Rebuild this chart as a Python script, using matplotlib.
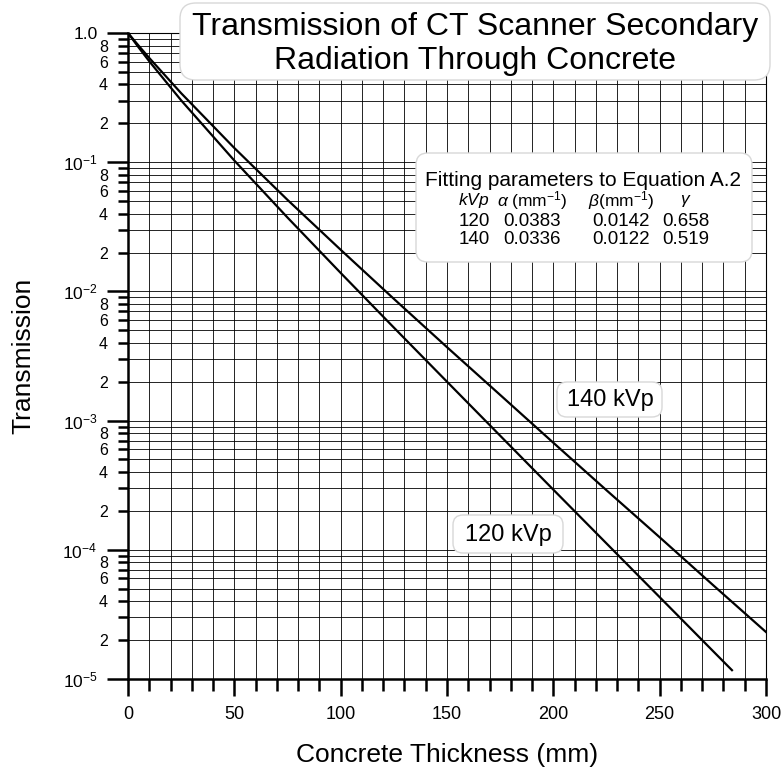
import numpy as np
import matplotlib
matplotlib.use('Agg')
import matplotlib.pyplot as plt
from matplotlib.patches import FancyBboxPatch
from matplotlib.ticker import FixedLocator, FuncFormatter

plt.rcParams['font.family'] = ['Liberation Sans', 'DejaVu Sans']
plt.rcParams['mathtext.fontset'] = 'custom'
plt.rcParams['mathtext.rm'] = 'Liberation Sans'
plt.rcParams['mathtext.it'] = 'Liberation Sans:italic'
plt.rcParams['mathtext.bf'] = 'Liberation Sans:bold'

# curves (thickness in mm, transmission)
thick_120 = [0, 5, 10, 25, 50, 75, 100, 125, 150, 175, 200, 225, 250, 275, 284]
trans_120 = [1.0, 0.773, 0.604, 0.301, 0.103, 0.0373, 0.0139, 0.00525, 0.0020,
             7.64e-4, 2.92e-4, 1.12e-4, 4.3e-5, 1.65e-5, 1.17e-5]
thick_140 = [0, 5, 10, 25, 50, 75, 100, 125, 150, 175, 200, 225, 250, 275, 300]
trans_140 = [1.0, 0.798, 0.641, 0.342, 0.1288, 0.0511, 0.0210, 0.00876, 0.0037,
             1.58e-3, 6.74e-4, 2.89e-4, 1.25e-4, 5.35e-5, 2.31e-5]

# fitting parameter table
param_kvp = ['120', '140']
param_alpha = ['0.0383', '0.0336']
param_beta = ['0.0142', '0.0122']
param_gamma = ['0.658', '0.519']

fig = plt.figure(figsize=(7.83, 7.70), dpi=100)
W, H = 783, 770
ax = fig.add_axes([128 / W, 1 - 679 / H, (766 - 128) / W, (679 - 33) / H])

ax.plot(thick_120, trans_120, color='black', lw=1.6, zorder=3)
ax.plot(thick_140, trans_140, color='black', lw=1.6, zorder=3)

ax.set_yscale('log')
ax.set_xlim(0, 300)
ax.set_ylim(1e-5, 1.0)

# x ticks
ax.xaxis.set_major_locator(FixedLocator(np.arange(0, 301, 50)))
ax.xaxis.set_minor_locator(FixedLocator([v for v in range(0, 301, 10) if v % 50]))

# y ticks
decades = [1e-5, 1e-4, 1e-3, 1e-2, 1e-1, 1.0]
ax.yaxis.set_major_locator(FixedLocator(decades))
minors = [m * d for d in decades[:-1] for m in range(2, 10)]
ax.yaxis.set_minor_locator(FixedLocator(minors))


def major_fmt(v, pos):
    if v >= 1:
        return '1.0'
    e = int(round(np.log10(v)))
    return r'10$^{%d}$' % e


def minor_fmt(v, pos):
    m = int(round(v / 10 ** np.floor(np.log10(v) + 1e-9)))
    return str(m) if m in (2, 4, 6, 8) else ''


ax.yaxis.set_major_formatter(FuncFormatter(major_fmt))
ax.yaxis.set_minor_formatter(FuncFormatter(minor_fmt))

ax.tick_params(axis='x', which='major', length=12.5, width=1.8, pad=7, labelsize=13, direction='out')
ax.tick_params(axis='x', which='minor', length=8.5, width=1.8, direction='out')
ax.tick_params(axis='y', which='major', length=15, width=1.8, pad=7, labelsize=12.5, direction='out')
ax.tick_params(axis='y', which='minor', length=7, width=1.8, pad=7.5, labelsize=11.5, direction='out')

ax.grid(True, which='both', color='black', lw=0.6)
ax.set_axisbelow(True)

for s in ['left', 'bottom']:
    ax.spines[s].set_linewidth(1.8)
for s in ['right', 'top']:
    ax.spines[s].set_linewidth(0.8)

ax.set_xlabel('Concrete Thickness (mm)', fontsize=19, labelpad=14)
ax.set_ylabel('Transmission', fontsize=19)
ax.yaxis.set_label_coords(-(128 - 35) / (766 - 128), 0.5)


def fig_box(x0, y0, x1, y1, rs=12):
    # box in figure pixels (y from top)
    p = FancyBboxPatch((x0 / W, 1 - y1 / H), (x1 - x0) / W, (y1 - y0) / H,
                       boxstyle='round,pad=0,rounding_size=%f' % (rs / W),
                       transform=fig.transFigure, fc='white', ec='#d8d8d8',
                       lw=1.0, zorder=10)
    fig.add_artist(p)


def fig_txt(x, y, s, **kw):
    fig.text(x / W, 1 - y / H, s, ha='center', va='center', zorder=11, **kw)


# title box
fig_box(180, 3, 770, 80, rs=16)
fig_txt(475, 27, 'Transmission of CT Scanner Secondary', fontsize=23)
fig_txt(475, 61, 'Radiation Through Concrete', fontsize=23)

# parameters box
fig_box(416, 153, 752, 262, rs=12)
fig_txt(583, 180, 'Fitting parameters to Equation A.2', fontsize=15)
cols = [474, 532, 621, 686]
hdr = [r'$kVp$', r'$\alpha$ (mm$^{-1}$)', r'$\beta$(mm$^{-1}$)', r'$\gamma$']
for cx, h in zip(cols, hdr):
    fig_txt(cx, 201, h, fontsize=12.5)
for i, ry in enumerate([222, 239]):
    row = [param_kvp[i], param_alpha[i], param_beta[i], param_gamma[i]]
    for cx, v in zip(cols, row):
        fig_txt(cx, ry, v, fontsize=13.5)

# curve labels
fig_box(557, 382, 662, 417, rs=10)
fig_txt(610, 400, '140 kVp', fontsize=17)
fig_box(453, 515, 563, 553, rs=10)
fig_txt(508, 535, '120 kVp', fontsize=17)

fig.savefig('out.png', dpi=100)
